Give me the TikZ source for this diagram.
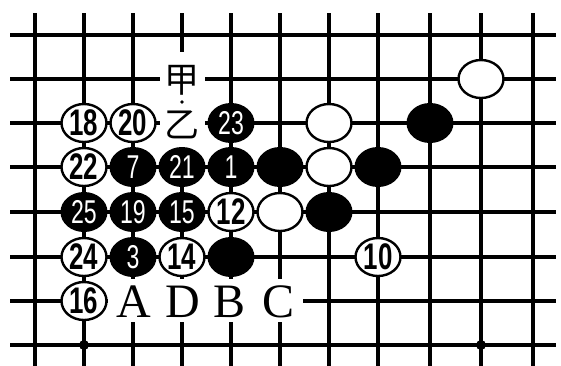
\documentclass[tikz,border=0pt]{standalone}
\usepackage{graphicx}
\usepackage{fontspec}
\setmainfont{Liberation Serif}
\newfontfamily\cjkfont{Noto Sans CJK SC}
\newfontfamily\numfont{Liberation Sans}
\usetikzlibrary{shapes.geometric}
\newcommand\stonenum[1]{\scalebox{0.7}[1]{#1}}
\tikzset{
  gridline/.style={line width=3.5pt},
  wstone/.style={ellipse,draw=black,line width=2.4pt,fill=white,minimum width=45pt,minimum height=38pt,inner sep=0pt,
    font=\numfont\bfseries\fontsize{37}{37}\selectfont},
  bstone/.style={ellipse,fill=black,minimum width=47pt,minimum height=40pt,inner sep=0pt,text=white,
    font=\numfont\fontsize{33}{33}\selectfont},
  letter/.style={inner sep=0pt,font=\fontsize{48}{48}\selectfont},
  cjklabel/.style={inner sep=0pt,font=\cjkfont\fontsize{35}{35}\selectfont},
}
\begin{document}
\begin{tikzpicture}[x=1pt,y=-1pt]
\useasboundingbox (0,0) rectangle (561,365);
\fill[white] (0,0) rectangle (561,365);
% grid
\foreach \y in {35,79,123,167,212,257,301,345} \draw[gridline] (10,\y) -- (556,\y);
\foreach \x in {35,84,133,182,231,280,329,378,430,481,533} \draw[gridline] (\x,13) -- (\x,370);
% erased areas around labels
\fill[white] (160,52) rectangle (205,147);
\fill[white] (108,279) rectangle (303,322);
% star points and small dot
\fill (84,345) circle (5);
\fill (481,345) circle (5);
\fill (182,102) circle (1.8);
% labels
\node[cjklabel] (jia) at (182,80) {甲};
\node[cjklabel] (yi) at (182,125) {乙};
\node[letter] (lA) at (134,302) {A};
\node[letter] (lD) at (183,302) {D};
\node[letter] (lB) at (230,302) {B};
\node[letter] (lC) at (279,302) {C};
% white stones
\node[wstone] (w1) at (481,79) {};
\node[wstone] (w18) at (84,123) {\stonenum{18}};
\node[wstone] (w20) at (133,123) {\stonenum{20}};
\node[wstone] (w2) at (329,123) {};
\node[wstone] (w22) at (84,167) {\stonenum{22}};
\node[wstone] (w3) at (329,167) {};
\node[wstone] (w12) at (231,212) {\stonenum{12}};
\node[wstone] (w4) at (280,212) {};
\node[wstone] (w24) at (84,257) {\stonenum{24}};
\node[wstone] (w14) at (182,257) {\stonenum{14}};
\node[wstone] (w10) at (378,257) {\stonenum{10}};
\node[wstone] (w16) at (84,301) {\stonenum{16}};
% black stones
\node[bstone] (b23) at (231,123) {\stonenum{23}};
\node[bstone] (b1) at (430,123) {};
\node[bstone] (b7) at (133,167) {\stonenum{7}};
\node[bstone] (b21) at (182,167) {\stonenum{21}};
\node[bstone] (bone) at (231,167) {\stonenum{1}};
\node[bstone] (b2) at (280,167) {};
\node[bstone] (b3) at (378,167) {};
\node[bstone] (b25) at (84,212) {\stonenum{25}};
\node[bstone] (b19) at (133,212) {\stonenum{19}};
\node[bstone] (b15) at (182,212) {\stonenum{15}};
\node[bstone] (b4) at (329,212) {};
\node[bstone] (bthree) at (133,257) {\stonenum{3}};
\node[bstone] (b5) at (231,257) {};
\end{tikzpicture}
\end{document}
